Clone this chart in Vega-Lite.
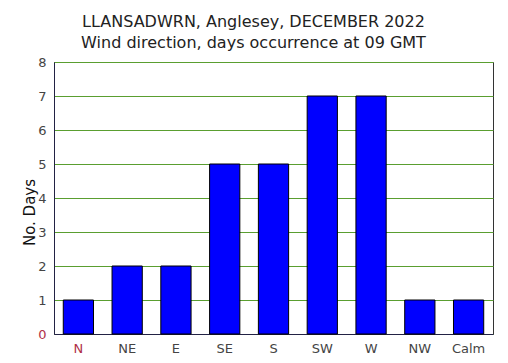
{
  "$schema": "https://vega.github.io/schema/vega-lite/v6.json",
  "autosize": "none",
  "width": 439,
  "height": 272,
  "padding": {"left": 54, "top": 62, "right": 15, "bottom": 29},
  "background": "white",
  "title": {
    "text": ["LLANSADWRN, Anglesey, DECEMBER 2022", "Wind direction, days occurrence at 09 GMT"],
    "font": "DejaVu Sans",
    "fontSize": 16,
    "fontWeight": "normal",
    "color": "#222222",
    "anchor": "middle",
    "dx": -20,
    "offset": 5,
    "lineHeight": 21
  },
  "data": {
    "values": [
      {"dir": "N", "days": 1},
      {"dir": "NE", "days": 2},
      {"dir": "E", "days": 2},
      {"dir": "SE", "days": 5},
      {"dir": "S", "days": 5},
      {"dir": "SW", "days": 7},
      {"dir": "W", "days": 7},
      {"dir": "NW", "days": 1},
      {"dir": "Calm", "days": 1}
    ]
  },
  "config": {
    "view": {"stroke": "#333333", "strokeWidth": 1},
    "axis": {"labelFont": "DejaVu Sans", "titleFont": "DejaVu Sans"}
  },
  "mark": {"type": "bar", "fill": "#0000ff", "stroke": "#000000", "strokeWidth": 1},
  "encoding": {
    "x": {
      "field": "dir",
      "type": "nominal",
      "sort": null,
      "scale": {"paddingInner": 0.38, "paddingOuter": 0.19},
      "axis": {
        "title": null,
        "labelAngle": 0,
        "ticks": false,
        "labelPadding": 8,
        "labelFontSize": 13,
        "labelColor": {"condition": {"test": "datum.value == 'N'", "value": "#b03048"}, "value": "#444444"},
        "domainColor": "#222244",
        "grid": false
      }
    },
    "y": {
      "field": "days",
      "type": "quantitative",
      "scale": {"domain": [0, 8]},
      "axis": {
        "title": "No. Days",
        "titleFontSize": 15,
        "titleFontWeight": "normal",
        "titleColor": "#111111",
        "titleX": -17,
        "titleY": 150,
        "values": [0, 1, 2, 3, 4, 5, 6, 7, 8],
        "ticks": false,
        "labelPadding": 8,
        "labelFontSize": 13,
        "labelColor": {"condition": {"test": "datum.value == 0", "value": "#b03048"}, "value": "#444444"},
        "domainColor": "#222244",
        "grid": true,
        "gridColor": "#5a9e30",
        "gridOpacity": 1,
        "gridWidth": 1
      }
    }
  }
}
